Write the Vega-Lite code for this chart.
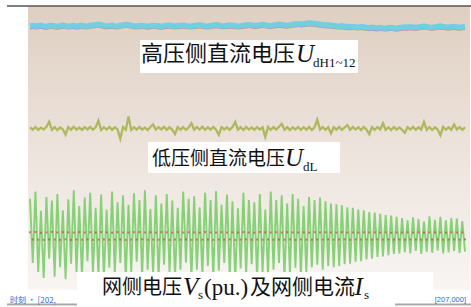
{
"$schema":"https://vega.github.io/schema/vega-lite/v6.json",
"width":442,"height":284,
"autosize":{"type":"none"},
"padding":{"left":28,"top":6,"right":1,"bottom":17},
"background":"#ffffff",
"config":{"view":{"stroke":null}},
"datasets":{"w":[
{"i":0,"u":3500,"m":1812,"g":620,"r":62},{"i":1,"u":3506,"m":1772,"g":-450,"r":-58},{"i":2,"u":3496,"m":1818,"g":740,"r":66},{"i":3,"u":3503,"m":1768,"g":-600,"r":-61},{"i":4,"u":3510,"m":1806,"g":420,"r":55},{"i":5,"u":3498,"m":1775,"g":-700,"r":-64},{"i":6,"u":3492,"m":1821,"g":650,"r":60},{"i":7,"u":3505,"m":1905,"g":-380,"r":-57},{"i":8,"u":3508,"m":1770,"g":590,"r":68},{"i":9,"u":3499,"m":1815,"g":-680,"r":-60},
{"i":10,"u":3495,"m":1766,"g":700,"r":58},{"i":11,"u":3502,"m":1810,"g":-520,"r":-63},{"i":12,"u":3512,"m":1778,"g":430,"r":64},{"i":13,"u":3504,"m":1690,"g":-720,"r":-55},{"i":14,"u":3497,"m":1816,"g":610,"r":61},{"i":15,"u":3500,"m":1770,"g":-460,"r":-66},{"i":16,"u":3507,"m":1820,"g":760,"r":57},{"i":17,"u":3494,"m":1773,"g":-600,"r":-59},{"i":18,"u":3503,"m":1808,"g":500,"r":65},{"i":19,"u":3509,"m":1768,"g":-690,"r":-62},
{"i":20,"u":3501,"m":1814,"g":640,"r":59},{"i":21,"u":3496,"m":1776,"g":-420,"r":-56},{"i":22,"u":3510,"m":1819,"g":720,"r":63},{"i":23,"u":3515,"m":1771,"g":-610,"r":-65},{"i":24,"u":3522,"m":1810,"g":470,"r":56},{"i":25,"u":3530,"m":1920,"g":-650,"r":-60},{"i":26,"u":3518,"m":1767,"g":690,"r":67},{"i":27,"u":3506,"m":1813,"g":-700,"r":-58},{"i":28,"u":3499,"m":1774,"g":440,"r":61},{"i":29,"u":3504,"m":1817,"g":-530,"r":-63},
{"i":30,"u":3511,"m":1769,"g":740,"r":54},{"i":31,"u":3502,"m":1811,"g":-640,"r":-61},{"i":32,"u":3496,"m":1777,"g":560,"r":65},{"i":33,"u":3508,"m":1620,"g":-450,"r":-57},{"i":34,"u":3518,"m":1815,"g":680,"r":60},{"i":35,"u":3525,"m":1770,"g":-720,"r":-66},{"i":36,"u":3520,"m":1990,"g":520,"r":58},{"i":37,"u":3509,"m":1768,"g":-600,"r":-59},{"i":38,"u":3500,"m":1812,"g":710,"r":63},{"i":39,"u":3497,"m":1775,"g":-430,"r":-62},
{"i":40,"u":3503,"m":1818,"g":600,"r":66},{"i":41,"u":3508,"m":1771,"g":-690,"r":-55},{"i":42,"u":3500,"m":1809,"g":760,"r":59},{"i":43,"u":3495,"m":1766,"g":-560,"r":-64},{"i":44,"u":3502,"m":1816,"g":450,"r":62},{"i":45,"u":3510,"m":1860,"g":-640,"r":-60},{"i":46,"u":3506,"m":1772,"g":680,"r":57},{"i":47,"u":3499,"m":1813,"g":-710,"r":-63},{"i":48,"u":3493,"m":1776,"g":540,"r":64},{"i":49,"u":3501,"m":1819,"g":-480,"r":-58},
{"i":50,"u":3507,"m":1769,"g":700,"r":60},{"i":51,"u":3512,"m":1811,"g":-620,"r":-65},{"i":52,"u":3504,"m":1774,"g":590,"r":56},{"i":53,"u":3498,"m":1700,"g":-680,"r":-59},{"i":54,"u":3503,"m":1817,"g":470,"r":67},{"i":55,"u":3509,"m":1770,"g":-560,"r":-61},{"i":56,"u":3514,"m":1814,"g":740,"r":58},{"i":57,"u":3506,"m":1767,"g":-440,"r":-57},{"i":58,"u":3500,"m":1810,"g":620,"r":63},{"i":59,"u":3496,"m":1880,"g":-710,"r":-64},
{"i":60,"u":3504,"m":1772,"g":660,"r":61},{"i":61,"u":3511,"m":1816,"g":-560,"r":-60},{"i":62,"u":3517,"m":1775,"g":480,"r":55},{"i":63,"u":3510,"m":1820,"g":-650,"r":-62},{"i":64,"u":3502,"m":1768,"g":720,"r":66},{"i":65,"u":3498,"m":1812,"g":-500,"r":-58},{"i":66,"u":3505,"m":1773,"g":600,"r":60},{"i":67,"u":3512,"m":1818,"g":-700,"r":-65},{"i":68,"u":3520,"m":1770,"g":750,"r":57},{"i":69,"u":3514,"m":1684,"g":-580,"r":-59},
{"i":70,"u":3506,"m":1815,"g":520,"r":64},{"i":71,"u":3501,"m":1776,"g":-450,"r":-61},{"i":72,"u":3508,"m":1811,"g":690,"r":59},{"i":73,"u":3515,"m":1769,"g":-680,"r":-56},{"i":74,"u":3510,"m":1817,"g":580,"r":62},{"i":75,"u":3503,"m":1902,"g":-720,"r":-66},{"i":76,"u":3497,"m":1771,"g":460,"r":58},{"i":77,"u":3502,"m":1813,"g":-540,"r":-60},{"i":78,"u":3509,"m":1767,"g":720,"r":65},{"i":79,"u":3516,"m":1819,"g":-640,"r":-57},
{"i":80,"u":3521,"m":1774,"g":600,"r":60},{"i":81,"u":3514,"m":1810,"g":-470,"r":-63},{"i":82,"u":3507,"m":1770,"g":560,"r":56},{"i":83,"u":3511,"m":1816,"g":-700,"r":-59},{"i":84,"u":3519,"m":1775,"g":700,"r":67},{"i":85,"u":3525,"m":1812,"g":-620,"r":-62},{"i":86,"u":3518,"m":1650,"g":440,"r":61},{"i":87,"u":3510,"m":1818,"g":-650,"r":-58},{"i":88,"u":3506,"m":1768,"g":740,"r":58},{"i":89,"u":3513,"m":1814,"g":-560,"r":-64},
{"i":90,"u":3520,"m":1773,"g":600,"r":63},{"i":91,"u":3527,"m":1820,"g":-450,"r":-60},{"i":92,"u":3522,"m":1870,"g":680,"r":57},{"i":93,"u":3516,"m":1771,"g":-700,"r":-61},{"i":94,"u":3512,"m":1815,"g":540,"r":64},{"i":95,"u":3518,"m":1766,"g":-620,"r":-57},{"i":96,"u":3526,"m":1811,"g":700,"r":60},{"i":97,"u":3532,"m":1776,"g":-530,"r":-65},{"i":98,"u":3538,"m":1817,"g":620,"r":59},{"i":99,"u":3530,"m":1769,"g":-660,"r":-58},
{"i":100,"u":3536,"m":1813,"g":500,"r":62},{"i":101,"u":3544,"m":1772,"g":-600,"r":-60},{"i":102,"u":3550,"m":1819,"g":650,"r":56},{"i":103,"u":3546,"m":1767,"g":-520,"r":-63},{"i":104,"u":3540,"m":1810,"g":600,"r":65},{"i":105,"u":3534,"m":1940,"g":-480,"r":-58},{"i":106,"u":3528,"m":1774,"g":640,"r":59},{"i":107,"u":3522,"m":1816,"g":-560,"r":-61},{"i":108,"u":3516,"m":1770,"g":580,"r":63},{"i":109,"u":3520,"m":1812,"g":-500,"r":-57},
{"i":110,"u":3512,"m":1710,"g":540,"r":60},{"i":111,"u":3506,"m":1815,"g":-520,"r":-62},{"i":112,"u":3500,"m":1773,"g":530,"r":57},{"i":113,"u":3496,"m":1818,"g":-500,"r":-59},{"i":114,"u":3502,"m":1768,"g":510,"r":64},{"i":115,"u":3494,"m":1811,"g":-470,"r":-56},{"i":116,"u":3490,"m":1850,"g":480,"r":58},{"i":117,"u":3486,"m":1770,"g":-460,"r":-63},{"i":118,"u":3492,"m":1817,"g":470,"r":61},{"i":119,"u":3484,"m":1775,"g":-430,"r":-58},
{"i":120,"u":3480,"m":1813,"g":440,"r":56},{"i":121,"u":3488,"m":1766,"g":-420,"r":-60},{"i":122,"u":3482,"m":1819,"g":430,"r":63},{"i":123,"u":3476,"m":1772,"g":-390,"r":-57},{"i":124,"u":3472,"m":1698,"g":400,"r":59},{"i":125,"u":3478,"m":1814,"g":-380,"r":-62},{"i":126,"u":3470,"m":1769,"g":390,"r":61},{"i":127,"u":3466,"m":1816,"g":-350,"r":-55},{"i":128,"u":3474,"m":1774,"g":370,"r":57},{"i":129,"u":3468,"m":1880,"g":-340,"r":-60},
{"i":130,"u":3464,"m":1771,"g":350,"r":62},{"i":131,"u":3470,"m":1812,"g":-320,"r":-58},{"i":132,"u":3476,"m":1767,"g":340,"r":55},{"i":133,"u":3468,"m":1818,"g":-300,"r":-61},{"i":134,"u":3462,"m":1773,"g":320,"r":60},{"i":135,"u":3470,"m":1810,"g":-290,"r":-57},{"i":136,"u":3476,"m":1770,"g":300,"r":58},{"i":137,"u":3482,"m":1720,"g":-270,"r":-62},{"i":138,"u":3478,"m":1815,"g":260,"r":63},{"i":139,"u":3486,"m":1775,"g":-290,"r":-56},
{"i":140,"u":3480,"m":1817,"g":310,"r":57},{"i":141,"u":3474,"m":1768,"g":-250,"r":-59},{"i":142,"u":3482,"m":1813,"g":280,"r":61},{"i":143,"u":3490,"m":1772,"g":-300,"r":-63},{"i":144,"u":3496,"m":1902,"g":240,"r":56},{"i":145,"u":3488,"m":1770,"g":-260,"r":-58},{"i":146,"u":3480,"m":1816,"g":330,"r":62},{"i":147,"u":3476,"m":1767,"g":-280,"r":-60},{"i":148,"u":3484,"m":1811,"g":270,"r":59},{"i":149,"u":3492,"m":1774,"g":-240,"r":-57},
{"i":150,"u":3498,"m":1680,"g":320,"r":60},{"i":151,"u":3490,"m":1818,"g":-290,"r":-61},{"i":152,"u":3484,"m":1771,"g":260,"r":55},{"i":153,"u":3478,"m":1812,"g":-270,"r":-59},{"i":154,"u":3486,"m":1769,"g":300,"r":63},{"i":155,"u":3490,"m":1860,"g":-250,"r":-56},{"i":156,"u":3482,"m":1775,"g":290,"r":58},{"i":157,"u":3476,"m":1815,"g":-280,"r":-62},{"i":158,"u":3484,"m":1770,"g":250,"r":60},{"i":159,"u":3488,"m":1813,"g":-260,"r":-57}
]},
"layer":[
{"data":{"values":[{}]},"mark":{"type":"rect","color":{"gradient":"linear","x1":0,"y1":0,"x2":0,"y2":1,"stops":[{"offset":0,"color":"#dfcfc2"},{"offset":0.55,"color":"#eee5de"},{"offset":1,"color":"#f8f5f3"}]}},"encoding":{}},
{"data":{"name":"w"},"mark":{"type":"line","color":"#6cc95a","strokeWidth":1.9,"opacity":0.8},
 "encoding":{"x":{"field":"i","type":"quantitative","scale":{"domain":[-0.731,160.82],"nice":false,"zero":false},"axis":{"title":null,"grid":false,"values":[1.1,149.12,155.33],"labels":false,"domain":false,"tickSize":3,"tickColor":"#bbbbbb"}},
  "y":{"field":"g","type":"quantitative","scale":{"domain":[-900,3833.3],"nice":false,"zero":false},"axis":{"title":null,"grid":false,"values":[-500,0,500,1000,1500,2000,2500,3000,3500],"labelColor":"#2a6dd0","labelFont":"Liberation Sans","labelFontSize":9,"labelAlign":"left","labelPadding":15,"tickSize":4,"tickColor":"#999999","domainColor":"#a0a0a0","domainWidth":1.5}}}},
{"data":{"name":"w"},"mark":{"type":"square","size":4,"color":"#b5553a","opacity":0.7,"filled":true},
 "encoding":{"x":{"field":"i","type":"quantitative","scale":{"domain":[-0.731,160.82],"nice":false,"zero":false},"axis":null},
  "y":{"field":"r","type":"quantitative","scale":{"domain":[-900,3833.3],"nice":false,"zero":false},"axis":null}}},
{"data":{"name":"w"},"mark":{"type":"line","color":"#adb85f","strokeWidth":2.3},
 "encoding":{"x":{"field":"i","type":"quantitative","scale":{"domain":[-0.731,160.82],"nice":false,"zero":false},"axis":null},
  "y":{"field":"m","type":"quantitative","scale":{"domain":[-900,3833.3],"nice":false,"zero":false},"axis":null}}},
{"data":{"name":"w"},"mark":{"type":"line","color":"#c8c070","strokeWidth":1,"yOffset":3},
 "encoding":{"x":{"field":"i","type":"quantitative","scale":{"domain":[-0.731,160.82],"nice":false,"zero":false},"axis":null},
  "y":{"field":"u","type":"quantitative","scale":{"domain":[-900,3833.3],"nice":false,"zero":false},"axis":null}}},
{"data":{"name":"w"},"mark":{"type":"line","color":"#c77dc0","strokeWidth":1.2,"yOffset":2.5},
 "encoding":{"x":{"field":"i","type":"quantitative","scale":{"domain":[-0.731,160.82],"nice":false,"zero":false},"axis":null},
  "y":{"field":"u","type":"quantitative","scale":{"domain":[-900,3833.3],"nice":false,"zero":false},"axis":null}}},
{"data":{"name":"w"},"mark":{"type":"line","color":"#72cfe0","strokeWidth":5.5},
 "encoding":{"x":{"field":"i","type":"quantitative","scale":{"domain":[-0.731,160.82],"nice":false,"zero":false},"axis":null},
  "y":{"field":"u","type":"quantitative","scale":{"domain":[-900,3833.3],"nice":false,"zero":false},"axis":null}}},
{"data":{"values":[{"x1":-8.41,"x2":161.19,"y":3833.3}]},"mark":{"type":"rule","color":"#555555","strokeWidth":1.5},
 "encoding":{"x":{"field":"x1","type":"quantitative","scale":{"domain":[-0.731,160.82],"nice":false,"zero":false},"axis":null},"x2":{"field":"x2"},
  "y":{"field":"y","type":"quantitative","scale":{"domain":[-900,3833.3],"nice":false,"zero":false},"axis":null}}},
{"data":{"values":[{"x1":40.21,"x2":119.88,"y1":3266.7,"y2":2716.7},{"x1":43.13,"x2":113.31,"y1":1566.7,"y2":1050},{"x1":17.18,"x2":147.3,"y1":-600,"y2":-1183.3}]},"mark":{"type":"rect","color":"#ffffff"},
 "encoding":{"x":{"field":"x1","type":"quantitative","scale":{"domain":[-0.731,160.82],"nice":false,"zero":false},"axis":null},"x2":{"field":"x2"},
  "y":{"field":"y1","type":"quantitative","scale":{"domain":[-900,3833.3],"nice":false,"zero":false},"axis":null},"y2":{"field":"y2"}}},
{"data":{"values":[{"x1":-8.41,"x2":17.18,"y":-1141.7},{"x1":133.4,"x2":161.19,"y":-1141.7}]},"mark":{"type":"rule","color":"#aaaaaa","strokeWidth":2},
 "encoding":{"x":{"field":"x1","type":"quantitative","scale":{"domain":[-0.731,160.82],"nice":false,"zero":false},"axis":null},"x2":{"field":"x2"},
  "y":{"field":"y","type":"quantitative","scale":{"domain":[-900,3833.3],"nice":false,"zero":false},"axis":null}}},
{"data":{"values":[{"x":40.57,"y":2916.7,"t":"高压侧直流电压"}]},"mark":{"type":"text","font":"Noto Sans CJK SC","fontSize":22,"align":"left","baseline":"alphabetic","color":"#111111"},
 "encoding":{"x":{"field":"x","type":"quantitative","scale":{"domain":[-0.731,160.82],"nice":false,"zero":false},"axis":null},
  "y":{"field":"y","type":"quantitative","scale":{"domain":[-900,3833.3],"nice":false,"zero":false},"axis":null},"text":{"field":"t"}}},
{"data":{"values":[{"x":44.59,"y":1183.3,"t":"低压侧直流电压"}]},"mark":{"type":"text","font":"Noto Sans CJK SC","fontSize":19,"align":"left","baseline":"alphabetic","color":"#111111"},
 "encoding":{"x":{"field":"x","type":"quantitative","scale":{"domain":[-0.731,160.82],"nice":false,"zero":false},"axis":null},
  "y":{"field":"y","type":"quantitative","scale":{"domain":[-900,3833.3],"nice":false,"zero":false},"axis":null},"text":{"field":"t"}}},
{"data":{"values":[{"x":26.32,"y":-966.7,"t":"网侧电压"}]},"mark":{"type":"text","font":"Noto Sans CJK SC","fontSize":20,"align":"left","baseline":"alphabetic","color":"#111111"},
 "encoding":{"x":{"field":"x","type":"quantitative","scale":{"domain":[-0.731,160.82],"nice":false,"zero":false},"axis":null},
  "y":{"field":"y","type":"quantitative","scale":{"domain":[-900,3833.3],"nice":false,"zero":false},"axis":null},"text":{"field":"t"}}},
{"data":{"values":[{"x":80.41,"y":-966.7,"t":"及网侧电流"}]},"mark":{"type":"text","font":"Noto Sans CJK SC","fontSize":21,"align":"left","baseline":"alphabetic","color":"#111111"},
 "encoding":{"x":{"field":"x","type":"quantitative","scale":{"domain":[-0.731,160.82],"nice":false,"zero":false},"axis":null},
  "y":{"field":"y","type":"quantitative","scale":{"domain":[-900,3833.3],"nice":false,"zero":false},"axis":null},"text":{"field":"t"}}},
{"data":{"values":[{"x":97.22,"y":2900,"t":"U"},{"x":93.2,"y":1166.7,"t":"U"},{"x":55.92,"y":-983.3,"t":"V"},{"x":118.6,"y":-983.3,"t":"I"}]},"mark":{"type":"text","font":"Liberation Serif","fontStyle":"italic","fontSize":25,"align":"left","baseline":"alphabetic","color":"#111111"},
 "encoding":{"x":{"field":"x","type":"quantitative","scale":{"domain":[-0.731,160.82],"nice":false,"zero":false},"axis":null},
  "y":{"field":"y","type":"quantitative","scale":{"domain":[-900,3833.3],"nice":false,"zero":false},"axis":null},"text":{"field":"t"}}},
{"data":{"values":[{"x":103.44,"y":2816.7,"t":"dH1~12"},{"x":99.78,"y":1083.3,"t":"dL"},{"x":61.4,"y":-1050,"t":"s"},{"x":122.08,"y":-1050,"t":"s"}]},"mark":{"type":"text","font":"Liberation Serif","fontSize":13,"align":"left","baseline":"alphabetic","color":"#111111"},
 "encoding":{"x":{"field":"x","type":"quantitative","scale":{"domain":[-0.731,160.82],"nice":false,"zero":false},"axis":null},
  "y":{"field":"y","type":"quantitative","scale":{"domain":[-900,3833.3],"nice":false,"zero":false},"axis":null},"text":{"field":"t"}}},
{"data":{"values":[{"x":63.6,"y":-983.3,"t":"(pu.)"}]},"mark":{"type":"text","font":"Liberation Serif","fontSize":23,"align":"left","baseline":"alphabetic","color":"#111111"},
 "encoding":{"x":{"field":"x","type":"quantitative","scale":{"domain":[-0.731,160.82],"nice":false,"zero":false},"axis":null},
  "y":{"field":"y","type":"quantitative","scale":{"domain":[-900,3833.3],"nice":false,"zero":false},"axis":null},"text":{"field":"t"}}},
{"data":{"values":[{"x":-7.31,"y":-1116.7,"t":"时刻 · [202,"}]},"mark":{"type":"text","font":"Noto Sans CJK SC","fontSize":8,"align":"left","baseline":"alphabetic","color":"#2a6dd0"},
 "encoding":{"x":{"field":"x","type":"quantitative","scale":{"domain":[-0.731,160.82],"nice":false,"zero":false},"axis":null},
  "y":{"field":"y","type":"quantitative","scale":{"domain":[-900,3833.3],"nice":false,"zero":false},"axis":null},"text":{"field":"t"}}},
{"data":{"values":[{"x":159.36,"y":-1100,"t":"[207,000]"}]},"mark":{"type":"text","font":"Liberation Sans","fontSize":7.5,"align":"right","baseline":"alphabetic","color":"#2a6dd0"},
 "encoding":{"x":{"field":"x","type":"quantitative","scale":{"domain":[-0.731,160.82],"nice":false,"zero":false},"axis":null},
  "y":{"field":"y","type":"quantitative","scale":{"domain":[-900,3833.3],"nice":false,"zero":false},"axis":null},"text":{"field":"t"}}}
]
}
